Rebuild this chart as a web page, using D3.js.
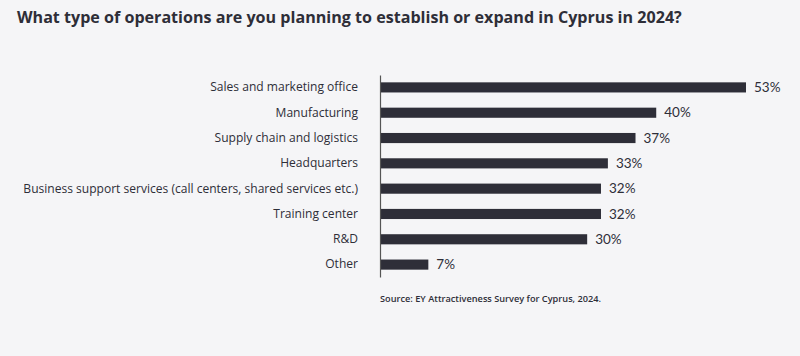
<!DOCTYPE html>
<html><head><meta charset="utf-8">
<script src="https://cdn.jsdelivr.net/npm/d3@7"></script>
<style>
html,body{margin:0;padding:0;background:#f5f5f7;}
svg{display:block;}
</style></head>
<body>
<svg id="chart" width="800" height="356"></svg>
<script>
const title = "What type of operations are you planning to establish or expand in Cyprus in 2024?";
const categories = ["Sales and marketing office","Manufacturing","Supply chain and logistics","Headquarters","Business support services (call centers, shared services etc.)","Training center","R&D","Other"];
const values = [53,40,37,33,32,32,30,7];
const source = "Source: EY Attractiveness Survey for Cyprus, 2024.";

const svg = d3.select("#chart");
const ink = "#2e2e38";
svg.append("rect").attr("width",800).attr("height",356).attr("fill","#f5f5f7");

svg.append("text").attr("x",17).attr("y",23)
  .attr("font-family","'Open Sans', sans-serif").attr("font-weight",700)
  .attr("font-size",16.1).attr("fill",ink).text(title);

const axisX = 380;
const x = d3.scaleLinear().domain([0,53]).range([axisX, 746]);
const y = d3.scaleBand().domain(categories).range([75,277]).paddingInner(0.6).paddingOuter(0.29);

svg.selectAll("rect.bar").data(values).join("rect").attr("class","bar")
  .attr("x",x(0)).attr("y",(d,i)=>y(categories[i]))
  .attr("width",d=>x(d)-x(0)).attr("height",y.bandwidth()).attr("fill",ink);

const yAxis = svg.append("g").attr("transform",`translate(${axisX},0)`)
  .call(d3.axisLeft(y).tickSize(0).tickPadding(22));
yAxis.select(".domain").attr("stroke","#555").attr("stroke-width",1.2);
yAxis.selectAll("text").attr("font-family","'Open Sans', sans-serif").attr("font-size",12.05).attr("fill",ink);

svg.selectAll("text.val").data(values).join("text").attr("class","val")
  .attr("x",d=>x(d)+8).attr("y",(d,i)=>y(categories[i])+y.bandwidth()/2)
  .attr("dy","0.35em").attr("font-family","Lato, sans-serif").attr("font-size",13.5)
  .attr("fill",ink).text(d=>d+"%");

svg.append("text").attr("x",380).attr("y",302)
  .attr("font-family","'Open Sans', sans-serif").attr("font-weight",600)
  .attr("font-size",9.2).attr("fill",ink).text(source);
</script>
</body></html>
